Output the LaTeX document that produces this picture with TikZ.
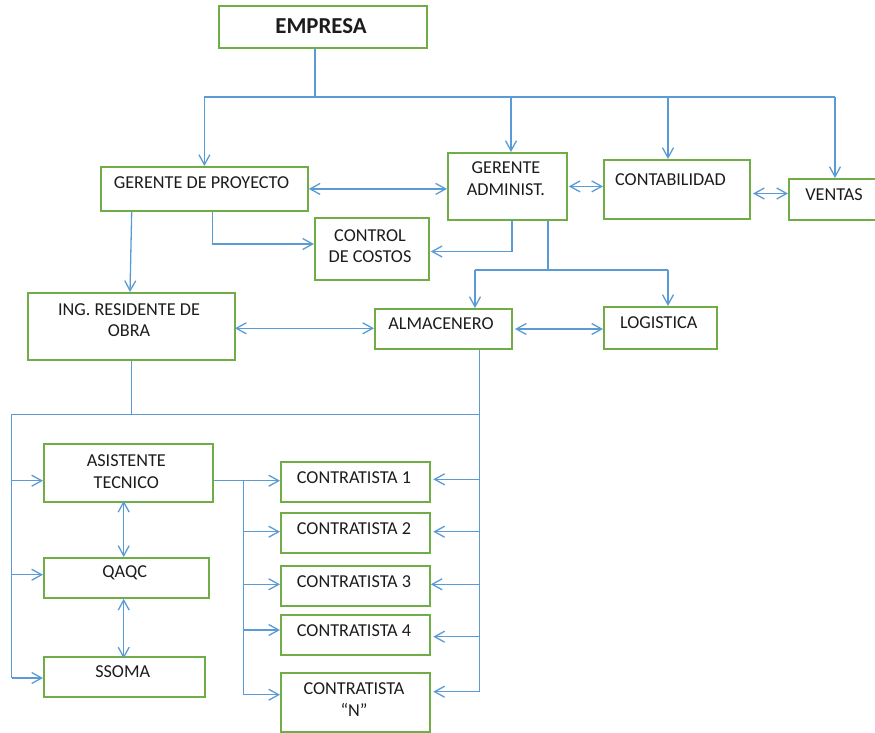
\documentclass[tikz,border=0pt]{standalone}
\usepackage{fontspec}
\setmainfont{Carlito}
\usetikzlibrary{arrows.meta}
\definecolor{boxgreen}{HTML}{70AD47}
\definecolor{linkblue}{HTML}{5B9BD5}
\definecolor{ink}{HTML}{1C1C1C}
\begin{document}
\begin{tikzpicture}[x=1pt,y=-1pt,
  box/.style={draw=boxgreen, line width=1.8pt, inner sep=0pt, anchor=north west},
  lbl/.style={text=ink, font=\fontsize{18.2}{21.5}\selectfont, align=center, inner sep=0pt},
  title/.style={lbl, font=\fontsize{22.8}{26}\selectfont\bfseries},
  link/.style={draw=linkblue, line width=1.3pt},
  vtip/.tip={Straight Barb[length=10pt,width=11pt]},
  arr/.style={link, -vtip},
  arr2/.style={link, vtip-vtip},
]
\useasboundingbox (0,0) rectangle (875,732);

% ---------- boxes ----------
\node[box, minimum width=208pt, minimum height=42pt] (emp)  at (218,5)   {};
\node[box, minimum width=207pt, minimum height=44pt] (gp)   at (100,166) {};
\node[box, minimum width=119pt, minimum height=67pt] (ga)   at (447,152) {};
\node[box, minimum width=146pt, minimum height=59pt] (cont) at (603,159) {};
\node[box, minimum width=100pt, minimum height=41pt] (ven)  at (788,178) {};
\node[box, minimum width=114pt, minimum height=62pt] (ctl)  at (314,217) {};
\node[box, minimum width=207pt, minimum height=67pt] (iro)  at (27,292)  {};
\node[box, minimum width=137pt, minimum height=40pt] (alm)  at (374,308) {};
\node[box, minimum width=113pt, minimum height=42pt] (log)  at (603,306) {};
\node[box, minimum width=169pt, minimum height=58pt] (at)   at (43,443)  {};
\node[box, minimum width=165pt, minimum height=40pt] (qa)   at (43,557)  {};
\node[box, minimum width=161pt, minimum height=40pt] (ss)   at (43,656)  {};
\node[box, minimum width=149pt, minimum height=40pt] (c1)   at (280,461) {};
\node[box, minimum width=149pt, minimum height=40pt] (c2)   at (280,512) {};
\node[box, minimum width=149pt, minimum height=40pt] (c3)   at (280,565) {};
\node[box, minimum width=149pt, minimum height=40pt] (c4)   at (280,614) {};
\node[box, minimum width=149pt, minimum height=59pt] (cn)   at (280,672) {};

% ---------- labels ----------
\node[title] (emp-t)  at (321,26.2)  {EMPRESA};
\node[lbl]   (gp-t)   at (201.5,182.2) {GERENTE DE PROYECTO};
\node[lbl]   (ga-t)   at (506,178.5) {GERENTE\\ADMINIST.};
\node[lbl]   (cont-t) at (670.5,180) {CONTABILIDAD};
\node[lbl]   (ven-t)  at (834,194.2) {VENTAS};
\node[lbl]   (ctl-t)  at (370,246.3) {CONTROL\\DE COSTOS};
\node[lbl]   (iro-t)  at (129,320.2) {ING. RESIDENTE DE\\OBRA};
\node[lbl]   (alm-t)  at (441,324)   {ALMACENERO};
\node[lbl]   (log-t)  at (658.7,322.7) {LOGISTICA};
\node[lbl]   (at-t)   at (126.3,471.8) {ASISTENTE\\TECNICO};
\node[lbl]   (qa-t)   at (124.7,572.7) {QAQC};
\node[lbl]   (ss-t)   at (122.7,672) {SSOMA};
\node[lbl]   (c1-t)   at (354,477.3) {CONTRATISTA 1};
\node[lbl]   (c2-t)   at (354,528.7) {CONTRATISTA 2};
\node[lbl]   (c3-t)   at (354,581.3) {CONTRATISTA 3};
\node[lbl]   (c4-t)   at (354,630.7) {CONTRATISTA 4};
\node[lbl]   (cn-t)   at (354,699.4) {CONTRATISTA\\“N”};

% ---------- top level: EMPRESA bus ----------
\coordinate (jE)  at (315,97);
\coordinate (dGA) at (511,97);
\coordinate (dCO) at (668,97);
\coordinate (dVE) at (835,97);
\draw[link] (emp.south -| jE) -- (jE);
\draw[link] (gp.north |- jE) -- (dVE);
\draw[arr] (gp.north |- jE) -- (gp.north);
\draw[arr] (dGA) -- (dGA |- ga.north);
\draw[arr] (dCO) -- (dCO |- cont.north);
\draw[arr] (dVE) -- (dVE |- ven.north);

% ---------- managers row ----------
\coordinate (cv) at (753,193.5);
\draw[arr2] (gp.east) -- (gp.east -| ga.west);
\draw[arr2] ([xshift=1pt]ga.east) -- (ga.east -| cont.west);
\draw[arr2] (cv) -- (cv -| ven.west);

% ---------- cost control ----------
\coordinate (gc) at (212.7,244);
\coordinate (ac) at (512,251.5);
\draw[arr] (gc |- gp.south) -- (gc) -- (gc -| ctl.west);
\draw[arr] (ac |- ga.south) -- (ac) -- ([xshift=1pt]ac -| ctl.east);

% ---------- warehouse and logistics ----------
\coordinate (al) at (548,270);
\coordinate (la) at (475,270);
\coordinate (lo) at (668,270);
\draw[link] (al |- ga.south) -- (al);
\draw[link] (la) -- (lo);
\draw[arr] (la) -- (la |- alm.north);
\draw[arr] (lo) -- (lo |- log.north);
\coordinate (alo) at (515,329);
\coordinate (ia)  at (235,328.3);
\draw[arr2] (alo) -- (alo -| log.west);
\draw[arr2] (ia) -- (ia -| alm.west);

% ---------- resident engineer ----------
\coordinate (gi1) at (131.7,0);
\coordinate (gi2) at (130,0);
\draw[arr] (gp.south -| gi1) -- (iro.north -| gi2);

% ---------- site bus ----------
\coordinate (ib) at (131.7,414.3);
\coordinate (bl) at (11.7,414.3);
\coordinate (br) at (479.3,414.3);
\draw[link] (iro.south -| ib) -- (ib);
\draw[link] (bl) -- (br);
\draw[link] (alm.south -| br) -- (br);

% left branch: technical staff
\coordinate (yAT) at (0,480.7);
\coordinate (yQA) at (0,574.7);
\coordinate (ySS) at (0,678);
\draw[link] (bl) -- (bl |- ySS);
\draw[arr] (bl |- yAT) -- (at.west |- yAT);
\draw[arr] (bl |- yQA) -- (qa.west |- yQA);
\draw[arr] (bl |- ySS) -- (ss.west |- ySS);
\coordinate (aq) at (123.7,0);
\draw[arr2] ([yshift=2pt]at.south -| aq) -- (qa.north -| aq);
\draw[arr2] (qa.south -| aq) -- ([yshift=-2.5pt]ss.north -| aq);

% contractors fed by the technical assistant
\coordinate (tb)  at (243.3,480.7);
\coordinate (yL2) at (0,531.7);
\coordinate (yL3) at (0,584.3);
\coordinate (yL4) at (0,630);
\coordinate (yLN) at (0,694.7);
\draw[arr] (at.east |- yAT) -- (c1.west |- yAT);
\draw[link] (tb) -- (tb |- yLN);
\draw[arr] (tb |- yL2) -- (c2.west |- yL2);
\draw[arr] (tb |- yL3) -- (c3.west |- yL3);
\draw[arr] (tb |- yL4) -- (c4.west |- yL4);
\draw[arr] (tb |- yLN) -- (cn.west |- yLN);

% contractors fed by the warehouse
\coordinate (tip) at (433.3,0);
\coordinate (yR1) at (0,479.3);
\coordinate (yR2) at (0,531.7);
\coordinate (yR3) at (0,584.3);
\coordinate (yR4) at (0,636.7);
\coordinate (yRN) at (0,691.7);
\draw[link] (br) -- (br |- yRN);
\draw[arr] (br |- yR1) -- (tip |- yR1);
\draw[arr] (br |- yR2) -- (tip |- yR2);
\draw[arr] (br |- yR3) -- (c3.east |- yR3);
\draw[arr] (br |- yR4) -- (tip |- yR4);
\draw[arr] (br |- yRN) -- (tip |- yRN);
\end{tikzpicture}
\end{document}
